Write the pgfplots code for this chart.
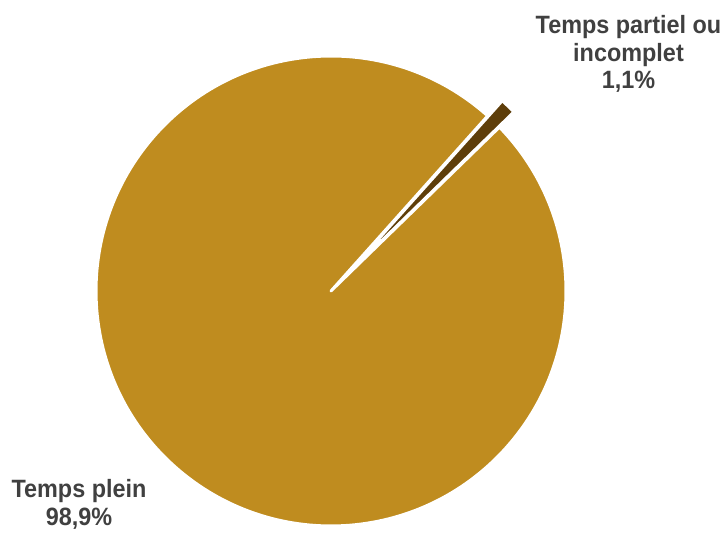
\documentclass[border=0pt]{standalone}
\usepackage{pgfplots}
\pgfplotsset{compat=1.18}
\usepackage{fontspec}
\setmainfont{Liberation Sans}
\definecolor{gold}{RGB}{191,140,31}
\definecolor{darkbrown}{RGB}{94,62,10}
\definecolor{txt}{RGB}{64,64,64}
\begin{document}
\begin{tikzpicture}
\begin{axis}[
  scale only axis, width=728bp, height=530bp,
  xmin=0, xmax=728, ymin=0, ymax=530,
  hide axis, clip=false,
]
% data: Temps plein 98.9 %, Temps partiel ou incomplet 1.1 %
\pgfmathsetmacro{\va}{98.9}
\pgfmathsetmacro{\vb}{1.1}
\pgfmathsetmacro{\mid}{46.2}
\pgfmathsetmacro{\bs}{\mid-\vb*3.6/2}
\pgfmathsetmacro{\be}{\mid+\vb*3.6/2}
\pgfmathsetmacro{\ae}{\be+\va*3.6}
\path (axis cs:0,0) rectangle (axis cs:728,530);
% main slice
\fill[gold, draw=white, line width=3bp, line join=round]
  (axis cs:331,239) -- ++(\be:235bp) arc[start angle=\be, end angle=\ae, radius=235bp] -- cycle;
% exploded small slice
\fill[darkbrown, draw=white, line width=3bp, line join=round]
  (axis cs:331,239) ++(\mid:21bp) -- ++(\bs:235bp) arc[start angle=\bs, end angle=\be, radius=235bp] -- cycle;
% labels
\tikzset{lab/.style={anchor=base, inner sep=0pt, yscale=1.07, text=txt, font=\fontsize{23.5}{28}\selectfont\bfseries}}
\node[lab] at (axis cs:628.5,496) {Temps partiel ou};
\node[lab] at (axis cs:628.5,468) {incomplet};
\node[lab] at (axis cs:628.5,441) {1,1\%};
\node[lab] at (axis cs:79,32) {Temps plein};
\node[lab] at (axis cs:79,4) {98,9\%};
\end{axis}
\end{tikzpicture}
\end{document}
